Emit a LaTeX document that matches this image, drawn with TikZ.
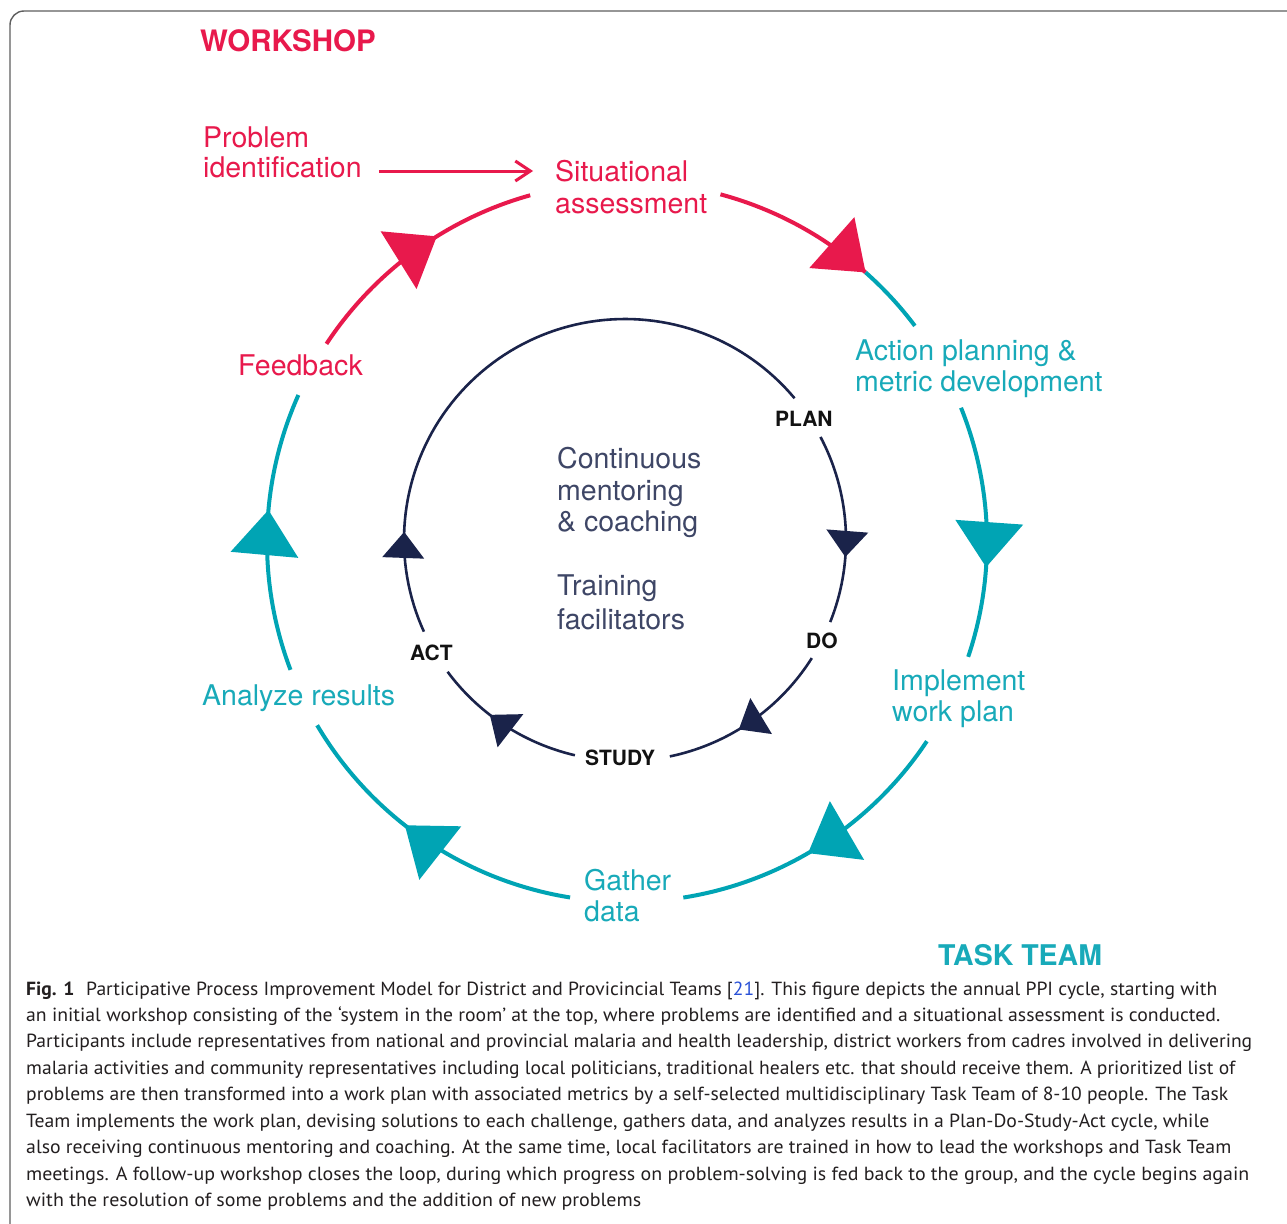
\documentclass[tikz,border=0pt]{standalone}
\usepackage{graphicx}
\usepackage{fontspec}
\setmainfont{TeX Gyre Heros}
\newfontfamily\capfont{PT Sans}
\usetikzlibrary{arrows.meta,calc}
\definecolor{wsred}{RGB}{232,25,76}
\definecolor{tealline}{RGB}{0,164,180}
\definecolor{tealtxt}{RGB}{24,170,185}
\definecolor{navy}{RGB}{26,35,74}
\definecolor{ctrtxt}{RGB}{62,70,102}
\definecolor{pdsablack}{RGB}{18,18,18}
\definecolor{framegray}{RGB}{95,95,95}
\definecolor{captxt}{RGB}{35,31,32}
\definecolor{linkblue}{RGB}{40,80,215}
\newcommand\ringarc[6]{\draw[#1] plot[domain=#5:#6, samples=90, variable=\t] ({#2+#4*cos(\t)},{#3+#4*sin(\t)});}
\newcommand\ringtip[7]{\fill[#1] ({#2+#4*cos(#5)},{#3+#4*sin(#5)})
  -- ({#2+#4*cos(#5)+#6*sin(#5)+0.5*#7*cos(#5)},{#3+#4*sin(#5)-#6*cos(#5)+0.5*#7*sin(#5)})
  -- ({#2+#4*cos(#5)+#6*sin(#5)-0.5*#7*cos(#5)},{#3+#4*sin(#5)-#6*cos(#5)-0.5*#7*sin(#5)}) -- cycle;}
\tikzset{
  lbl/.style={anchor=base west, inner sep=0pt, font=\fontsize{28.5}{31}\selectfont},
  redlbl/.style={lbl, text=wsred},
  teallbl/.style={lbl, text=tealtxt},
  ctrlbl/.style={lbl, text=ctrtxt},
  pdsa/.style={anchor=base west, inner sep=0pt, font=\fontsize{21}{24}\selectfont\bfseries, text=pdsablack},
  heading/.style={anchor=base west, inner sep=0pt, font=\fontsize{29.5}{32}\selectfont\bfseries},
  capline/.style={anchor=base west, inner sep=0pt, font=\capfont\fontsize{19}{26}\selectfont, text=captxt},
  redarc/.style={draw=wsred, line width=4},
  tealarc/.style={draw=tealline, line width=4},
  navyarc/.style={draw=navy, line width=2.6},
}
\begin{document}
\begin{tikzpicture}[x=1pt,y=-1pt]
\useasboundingbox (0,0) rectangle (1287,1223);
\fill[white] (0,0) rectangle (1287,1223);
\clip (0,0) rectangle (1287,1223);
% frame
\draw[framegray, line width=1.4, rounded corners=14] (10,11) rectangle (1330,1270);

% headings
\node[heading, text=wsred] (ws) at (200,51.5) {WORKSHOP};
\node[heading, text=tealtxt, font=\fontsize{28.5}{32}\selectfont\bfseries] (tt) at (938,965) {TASK TEAM};

% outer cycle labels
\node[redlbl] (prob1) at (203,147) {Problem};
\node[redlbl] (prob2) at (203,177.5) {identification};
\node[redlbl] (sit1) at (555,181.5) {Situational};
\node[redlbl] (sit2) at (555,213) {assessment};
\node[teallbl] (act1) at (855,360) {Action planning \&};
\node[teallbl] (act2) at (855,391) {metric development};
\node[teallbl] (imp1) at (892,690.5) {Implement};
\node[teallbl] (imp2) at (892,721) {work plan};
\node[teallbl] (gat1) at (584,890) {Gather};
\node[teallbl] (gat2) at (584,921.5) {data};
\node[teallbl] (ana) at (202,705) {Analyze results};
\node[redlbl] (fb) at (238,375) {Feedback};

% centre
\node[ctrlbl] (c1) at (557,468) {Continuous};
\node[ctrlbl] (c2) at (557,500) {mentoring};
\node[ctrlbl] (c3) at (557,531.5) {\& coaching};
\node[ctrlbl] (c4) at (557,595) {Training};
\node[ctrlbl] (c5) at (557,629.5) {facilitators};

% PDSA labels
\node[pdsa] (plan) at (775,426) {PLAN};
\node[pdsa] (do) at (806,648) {DO};
\node[pdsa] (study) at (585,765) {STUDY};
\node[pdsa] (actl) at (410,660) {ACT};

% problem identification arrow
\coordinate (pa) at ($(prob2.base east)+(17,-6.5)$);
\coordinate (pb) at ($(sit1.base west)+(-22,-10.5)$);
\draw[wsred, line width=3, -{Straight Barb[length=15pt,width=20pt,line width=3pt]}] (pa) -- (pb);

% outer cycle (centre 627,542, r 360)
\ringarc{redarc}{627}{542}{360}{213.4}{254.4}
\ringtip{wsred}{627}{542}{360}{238.1}{45}{68}
\ringarc{redarc}{627}{542}{360}{-74.95}{-48.5}
\ringarc{tealarc}{627}{542}{360}{-48.5}{-36.9}
\ringtip{wsred}{627}{542}{360}{-48.5}{45}{68}
\ringarc{tealarc}{627}{542}{360}{-21.9}{18.6}
\ringtip{tealline}{627}{542}{360}{4.0}{45}{68}
\ringarc{tealarc}{627}{542}{360}{33.6}{81.0}
\ringtip{tealline}{627}{542}{360}{59.8}{45}{68}
\ringarc{tealarc}{627}{542}{360}{99.1}{149.4}
\ringtip{tealline}{627}{542}{360}{128.1}{45}{68}
\ringarc{tealarc}{627}{542}{360}{159.2}{204.1}
\ringtip{tealline}{627}{542}{360}{185.1}{45}{68}

% inner cycle (centre 625,540, r 221)
\ringarc{navyarc}{625}{540}{221}{155.5}{320.1}
\ringtip{navy}{625}{540}{221}{182.1}{26}{42}
\ringarc{navyarc}{625}{540}{221}{-27.8}{21.8}
\ringtip{navy}{625}{540}{221}{4.4}{26}{42}
\ringarc{navyarc}{625}{540}{221}{32.3}{78.3}
\ringtip{navy}{625}{540}{221}{59.0}{26}{42}
\ringarc{navyarc}{625}{540}{221}{103.1}{143.4}
\ringtip{navy}{625}{540}{221}{127.7}{26}{42}

% caption
\node[capline] (cap1) at (26,995) {\resizebox{1191pt}{\height}{\textbf{Fig. 1}\hspace{0.6em}Participative Process Improvement Model for District and Provicincial Teams [\textcolor{linkblue}{21}]. This figure depicts the annual PPI cycle, starting with}};
\node[capline] (cap2) at (26,1021.5) {\resizebox{1194pt}{\height}{an initial workshop consisting of the ‘system in the room’ at the top, where problems are identified and a situational assessment is conducted.}};
\node[capline] (cap3) at (26,1047.9) {\resizebox{1226pt}{\height}{Participants include representatives from national and provincial malaria and health leadership, district workers from cadres involved in delivering}};
\node[capline] (cap4) at (26,1074.4) {\resizebox{1209pt}{\height}{malaria activities and community representatives including local politicians, traditional healers etc. that should receive them. A prioritized list of}};
\node[capline] (cap5) at (26,1100.8) {\resizebox{1202pt}{\height}{problems are then transformed into a work plan with associated metrics by a self-selected multidisciplinary Task Team of 8-10 people. The Task}};
\node[capline] (cap6) at (26,1127.3) {\resizebox{1183pt}{\height}{Team implements the work plan, devising solutions to each challenge, gathers data, and analyzes results in a Plan-Do-Study-Act cycle, while}};
\node[capline] (cap7) at (26,1153.7) {\resizebox{1205pt}{\height}{also receiving continuous mentoring and coaching. At the same time, local facilitators are trained in how to lead the workshops and Task Team}};
\node[capline] (cap8) at (26,1180.2) {\resizebox{1223pt}{\height}{meetings. A follow-up workshop closes the loop, during which progress on problem-solving is fed back to the group, and the cycle begins again}};
\node[capline] (cap9) at (26,1206.6) {\resizebox{615pt}{\height}{with the resolution of some problems and the addition of new problems}};
\end{tikzpicture}
\end{document}
